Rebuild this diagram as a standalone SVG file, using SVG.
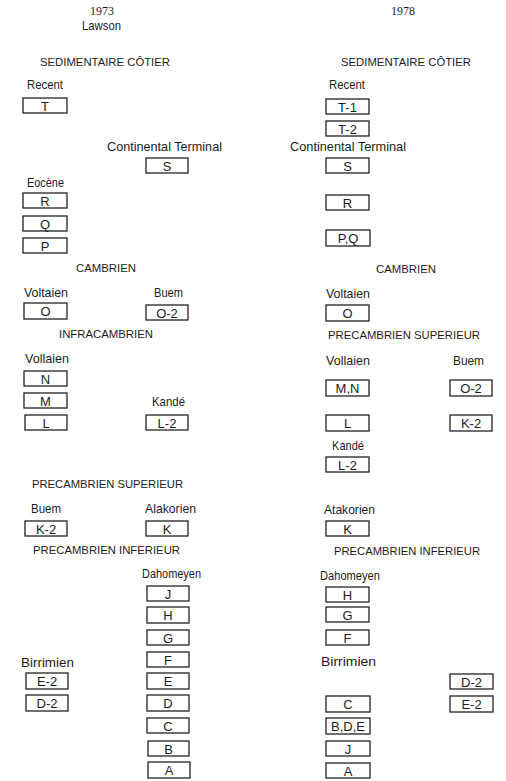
<svg xmlns="http://www.w3.org/2000/svg" width="506" height="781" viewBox="0 0 506 781">
<style>
text{font-family:"Liberation Sans",Arial,sans-serif;fill:#1c1c1c;font-size:13.5px}
.h{font-size:11.8px}
.yr{font-family:"Liberation Serif","Times New Roman",serif;font-size:13px}
.b rect{fill:none;stroke:#222;stroke-width:1.3}
.b text{text-anchor:middle;font-size:13px}
</style>
<rect width="506" height="781" fill="#fff"/>
<g id="labels">
<text class="yr" x="90" y="15" textLength="24" lengthAdjust="spacingAndGlyphs">1973</text>
<text x="82" y="30" textLength="39" lengthAdjust="spacingAndGlyphs">Lawson</text>
<text class="yr" x="391" y="15" textLength="24" lengthAdjust="spacingAndGlyphs">1978</text>
<text class="h" x="40" y="66" textLength="130" lengthAdjust="spacingAndGlyphs">SEDIMENTAIRE CÔTIER</text>
<text class="h" x="341" y="66" textLength="130" lengthAdjust="spacingAndGlyphs">SEDIMENTAIRE CÔTIER</text>
<text x="27" y="89" textLength="36" lengthAdjust="spacingAndGlyphs">Recent</text>
<text x="329" y="89" textLength="36" lengthAdjust="spacingAndGlyphs">Recent</text>
<text x="107" y="151" textLength="115" lengthAdjust="spacingAndGlyphs">Continental Terminal</text>
<text x="290" y="151" textLength="116" lengthAdjust="spacingAndGlyphs">Continental Terminal</text>
<text x="27" y="187" textLength="37" lengthAdjust="spacingAndGlyphs">Eocène</text>
<text class="h" x="76" y="272" textLength="60" lengthAdjust="spacingAndGlyphs">CAMBRIEN</text>
<text class="h" x="376" y="273" textLength="60" lengthAdjust="spacingAndGlyphs">CAMBRIEN</text>
<text x="24" y="297" textLength="44" lengthAdjust="spacingAndGlyphs">Voltaien</text>
<text x="154" y="297" textLength="29" lengthAdjust="spacingAndGlyphs">Buem</text>
<text x="326" y="298" textLength="44" lengthAdjust="spacingAndGlyphs">Voltaien</text>
<text class="h" x="59" y="338" textLength="94" lengthAdjust="spacingAndGlyphs">INFRACAMBRIEN</text>
<text class="h" x="328" y="339" textLength="152" lengthAdjust="spacingAndGlyphs">PRECAMBRIEN SUPERIEUR</text>
<text x="25" y="363" textLength="44" lengthAdjust="spacingAndGlyphs">Vollaien</text>
<text x="326" y="365" textLength="44" lengthAdjust="spacingAndGlyphs">Vollaien</text>
<text x="453" y="365" textLength="31" lengthAdjust="spacingAndGlyphs">Buem</text>
<text x="152" y="406" textLength="33" lengthAdjust="spacingAndGlyphs">Kandé</text>
<text x="332" y="450" textLength="32" lengthAdjust="spacingAndGlyphs">Kandé</text>
<text class="h" x="32" y="488" textLength="151" lengthAdjust="spacingAndGlyphs">PRECAMBRIEN SUPERIEUR</text>
<text x="31" y="513" textLength="30" lengthAdjust="spacingAndGlyphs">Buem</text>
<text x="145" y="513" textLength="51" lengthAdjust="spacingAndGlyphs">Alakorien</text>
<text x="324" y="514" textLength="51" lengthAdjust="spacingAndGlyphs">Atakorien</text>
<text class="h" x="33" y="554" textLength="147" lengthAdjust="spacingAndGlyphs">PRECAMBRIEN INFERIEUR</text>
<text class="h" x="334" y="555" textLength="146" lengthAdjust="spacingAndGlyphs">PRECAMBRIEN INFERIEUR</text>
<text x="142" y="578" textLength="59" lengthAdjust="spacingAndGlyphs">Dahomeyen</text>
<text x="320" y="580" textLength="60" lengthAdjust="spacingAndGlyphs">Dahomeyen</text>
<text x="21" y="667" textLength="53" lengthAdjust="spacingAndGlyphs">Birrimien</text>
<text x="321" y="666" textLength="55" lengthAdjust="spacingAndGlyphs">Birrimien</text>
</g>
<g id="connectors"/>
<g id="L-T" class="b"><rect x="23" y="98" width="44" height="15"/><text x="45" y="110.5">T</text></g>
<g id="L-S" class="b"><rect x="146" y="158" width="42" height="15"/><text x="167" y="170.5">S</text></g>
<g id="L-R" class="b"><rect x="23" y="193" width="44" height="15"/><text x="45" y="205.5">R</text></g>
<g id="L-Q" class="b"><rect x="23" y="216" width="44" height="15"/><text x="45" y="228.5">Q</text></g>
<g id="L-P" class="b"><rect x="23" y="238" width="44" height="15"/><text x="45" y="250.5">P</text></g>
<g id="L-O" class="b"><rect x="24" y="303" width="43" height="16"/><text x="45.5" y="316">O</text></g>
<g id="L-O2" class="b"><rect x="146" y="305" width="42" height="15"/><text x="167" y="317.5">O-2</text></g>
<g id="L-N" class="b"><rect x="24" y="371" width="43" height="15"/><text x="45.5" y="383.5">N</text></g>
<g id="L-M" class="b"><rect x="24" y="393" width="43" height="15"/><text x="45.5" y="405.5">M</text></g>
<g id="L-L" class="b"><rect x="25" y="415" width="42" height="15"/><text x="46" y="427.5">L</text></g>
<g id="L-L2" class="b"><rect x="146" y="415" width="42" height="15"/><text x="167" y="427.5">L-2</text></g>
<g id="L-K2" class="b"><rect x="25" y="521" width="42" height="15"/><text x="46" y="533.5">K-2</text></g>
<g id="L-K" class="b"><rect x="146" y="521" width="42" height="15"/><text x="167" y="533.5">K</text></g>
<g id="L-J" class="b"><rect x="147" y="586" width="42" height="15"/><text x="168" y="598.5">J</text></g>
<g id="L-H" class="b"><rect x="147" y="607" width="42" height="16"/><text x="168" y="620">H</text></g>
<g id="L-G" class="b"><rect x="147" y="630" width="42" height="15"/><text x="168" y="642.5">G</text></g>
<g id="L-F" class="b"><rect x="147" y="652" width="42" height="15"/><text x="168" y="664.5">F</text></g>
<g id="L-E" class="b"><rect x="147" y="673" width="42" height="16"/><text x="168" y="686">E</text></g>
<g id="L-D" class="b"><rect x="147" y="695" width="42" height="16"/><text x="168" y="708">D</text></g>
<g id="L-C" class="b"><rect x="147" y="718" width="42" height="15"/><text x="168" y="730.5">C</text></g>
<g id="L-B" class="b"><rect x="148" y="741" width="41" height="15"/><text x="168.5" y="753.5">B</text></g>
<g id="L-A" class="b"><rect x="148" y="762" width="42" height="16"/><text x="169" y="775">A</text></g>
<g id="L-E2" class="b"><rect x="26" y="673" width="42" height="16"/><text x="47" y="686">E-2</text></g>
<g id="L-D2" class="b"><rect x="26" y="695" width="42" height="16"/><text x="47" y="708">D-2</text></g>
<g id="R-T1" class="b"><rect x="326" y="99" width="43" height="15"/><text x="347.5" y="111.5">T-1</text></g>
<g id="R-T2" class="b"><rect x="326" y="121" width="43" height="15"/><text x="347.5" y="133.5">T-2</text></g>
<g id="R-S" class="b"><rect x="326" y="158" width="43" height="15"/><text x="347.5" y="170.5">S</text></g>
<g id="R-R" class="b"><rect x="326" y="195" width="43" height="15"/><text x="347.5" y="207.5">R</text></g>
<g id="R-PQ" class="b"><rect x="326" y="230" width="44" height="16"/><text x="348" y="243">P,Q</text></g>
<g id="R-O" class="b"><rect x="326" y="305" width="43" height="16"/><text x="347.5" y="318">O</text></g>
<g id="R-MN" class="b"><rect x="326" y="380" width="43" height="16"/><text x="347.5" y="393">M,N</text></g>
<g id="R-O2" class="b"><rect x="450" y="380" width="42" height="16"/><text x="471" y="393">O-2</text></g>
<g id="R-L" class="b"><rect x="326" y="415" width="43" height="16"/><text x="347.5" y="428">L</text></g>
<g id="R-K2" class="b"><rect x="450" y="415" width="42" height="16"/><text x="471" y="428">K-2</text></g>
<g id="R-L2" class="b"><rect x="326" y="457" width="43" height="15"/><text x="347.5" y="469.5">L-2</text></g>
<g id="R-K" class="b"><rect x="326" y="521" width="43" height="15"/><text x="347.5" y="533.5">K</text></g>
<g id="R-H" class="b"><rect x="326" y="587" width="43" height="15"/><text x="347.5" y="599.5">H</text></g>
<g id="R-G" class="b"><rect x="326" y="607" width="43" height="15"/><text x="347.5" y="619.5">G</text></g>
<g id="R-F" class="b"><rect x="326" y="630" width="43" height="15"/><text x="347.5" y="642.5">F</text></g>
<g id="R-D2" class="b"><rect x="450" y="674" width="43" height="15"/><text x="471.5" y="686.5">D-2</text></g>
<g id="R-E2" class="b"><rect x="450" y="696" width="43" height="16"/><text x="471.5" y="709">E-2</text></g>
<g id="R-C" class="b"><rect x="326" y="696" width="44" height="16"/><text x="348" y="709">C</text></g>
<g id="R-BDE" class="b"><rect x="326" y="718" width="44" height="16"/><text x="348" y="731">B,D,E</text></g>
<g id="R-J" class="b"><rect x="326" y="741" width="44" height="15"/><text x="348" y="753.5">J</text></g>
<g id="R-A" class="b"><rect x="326" y="763" width="44" height="15"/><text x="348" y="775.5">A</text></g>
</svg>
